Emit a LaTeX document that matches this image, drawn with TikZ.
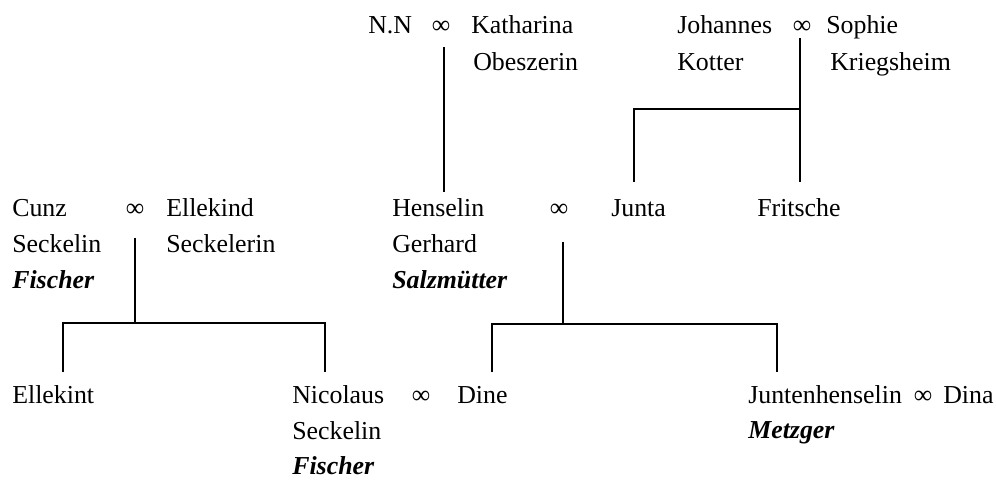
\documentclass[tikz,border=0pt]{standalone}
\usepackage{fontspec}
\setmainfont{Liberation Serif}
\begin{document}
\begin{tikzpicture}[x=0.75pt,y=-0.75pt,
  person/.style={anchor=base west, inner sep=0pt, font=\fontsize{19.4}{23}\selectfont},
  trade/.style={person, font=\fontsize{19.4}{23}\selectfont\bfseries\itshape},
  marr/.style={anchor=base, inner sep=0pt, font=\fontsize{19.4}{23}\selectfont},
  link/.style={line width=1.4pt}]
\useasboundingbox (0,0) rectangle (996,479);

% first generation
\node[person] (nn)    at (368,33) {N.N};
\node[marr]   (m1)    at (441,33) {∞};
\node[person] (kath)  at (471,33) {Katharina};
\node[person] (obes)  at (473,70) {Obeszerin};
\node[person] (joh)   at (677,33) {Johannes};
\node[marr]   (m2)    at (802,33) {∞};
\node[person] (soph)  at (826,33) {Sophie};
\node[person] (kott)  at (677,70) {Kotter};
\node[person] (krieg) at (830,70) {Kriegsheim};

% second generation
\node[person] (cunz)   at (12,216)  {Cunz};
\node[marr]   (m3)     at (135,216) {∞};
\node[person] (ellkd)  at (166,216) {Ellekind};
\node[person] (seck1)  at (12,252)  {Seckelin};
\node[person] (seckr)  at (166,252) {Seckelerin};
\node[trade]  (fisch1) at (12,288)  {Fischer};
\node[person] (hens)   at (392,216) {Henselin};
\node[marr]   (m4)     at (559,216) {∞};
\node[person] (junta)  at (611,216) {Junta};
\node[person] (frit)   at (757,216) {Fritsche};
\node[person] (gerh)   at (392,252) {Gerhard};
\node[trade]  (salz)   at (392,288) {Salzmütter};

% third generation
\node[person] (ellkt)  at (12,403)  {Ellekint};
\node[person] (nico)   at (292,403) {Nicolaus};
\node[marr]   (m5)     at (421,403) {∞};
\node[person] (dine)   at (457,403) {Dine};
\node[person] (seck2)  at (292,439) {Seckelin};
\node[trade]  (fisch2) at (292,474) {Fischer};
\node[person] (jhens)  at (748,403) {Juntenhenselin};
\node[marr]   (m6)     at (923,403) {∞};
\node[person] (dina)   at (943,403) {Dina};
\node[trade]  (metz)   at (748,438) {Metzger};

% line ends
\coordinate (a1) at (444,47);  \coordinate (a2) at (444,192);
\coordinate (b1) at (800,38);  \coordinate (b2) at (800,182);
\coordinate (b3) at (634,182);
\coordinate (c1) at (135,238); \coordinate (c2) at (135,323);
\coordinate (c3) at (63,372);  \coordinate (c4) at (325,372);
\coordinate (d1) at (563,242); \coordinate (d2) at (563,324);
\coordinate (d3) at (492,372); \coordinate (d4) at (777,372);

% descent lines
\draw[link] (a1) -- (a2);
\draw[link] (b1) -- (b2);
\draw[link] (b3) |- (800,109);
\draw[link] (c1) -- (c2);
\draw[link] (c3) |- (c2) -| (c4);
\draw[link] (d1) -- (d2);
\draw[link] (d3) |- (d2) -| (d4);
\end{tikzpicture}
\end{document}
